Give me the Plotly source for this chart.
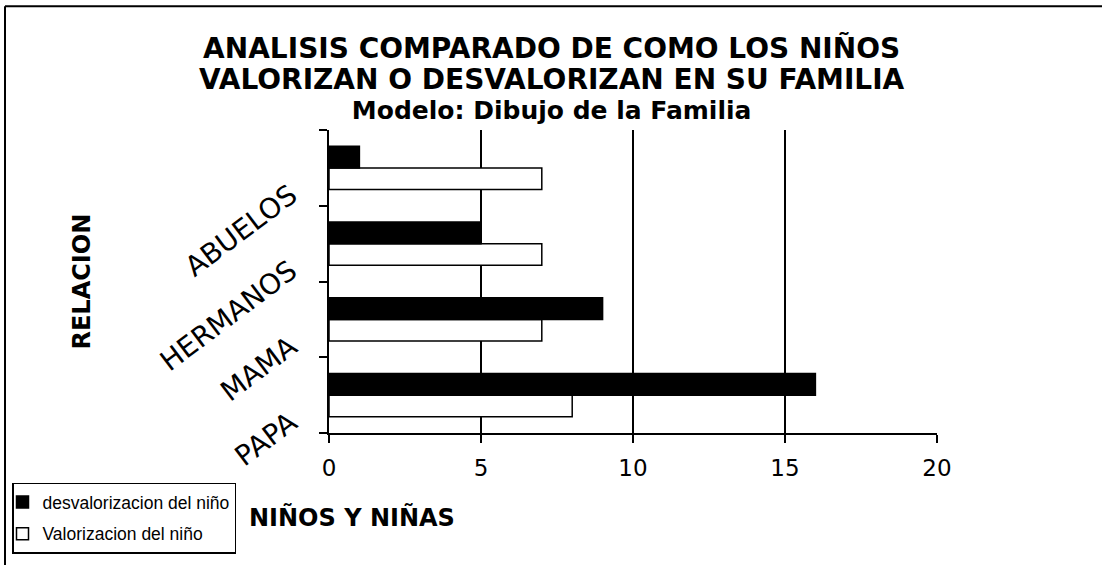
import plotly.graph_objects as go

# ---- data ----
categories = ["PAPA", "MAMA", "HERMANOS", "ABUELOS"]
desvalorizacion = [16, 9, 5, 1]
valorizacion = [8, 7, 7, 7]
x_ticks = [0, 5, 10, 15, 20]
grid_vals = [5, 10, 15]
title_lines = [
    "ANALISIS COMPARADO DE COMO LOS NIÑOS",
    "VALORIZAN O DESVALORIZAN EN SU FAMILIA",
    "Modelo: Dibujo de la Familia",
]
name_desv = "desvalorizacion del niño"
name_val = "Valorizacion del niño"
x_title = "NIÑOS Y NIÑAS"
y_title = "RELACION"

# ---- layout geometry (pixels) ----
W, H = 1102, 565
L, R, T, B = 329, 937, 130, 436


def px_x(p):
    return (p - L) / (R - L)


def px_y(p):
    return (B - p) / (B - T)


fig = go.Figure()
fig.add_trace(go.Bar(
    y=categories, x=valorizacion, name=name_val, orientation="h",
    legendrank=2, legendgroup="val",
    marker=dict(color="white", line=dict(color="black", width=1.5)),
))
fig.add_trace(go.Bar(
    y=categories, x=desvalorizacion, name=name_desv, orientation="h",
    legendrank=1, legendgroup="desv",
    marker=dict(color="black", line=dict(color="black", width=1.5)),
))
# empty helper trace so the grid-only overlay axis is drawn
fig.add_trace(go.Scatter(
    x=[None], y=[None], xaxis="x2", showlegend=False, hoverinfo="skip",
    mode="markers",
))

bold = dict(family="DejaVu Sans", weight=700, color="black")

title_html = "<br>".join([
    f"<span style='font-size:28px'>{title_lines[0]}</span>",
    f"<span style='font-size:28px'>{title_lines[1]}</span>",
    f"<span style='font-size:25px'>{title_lines[2]}</span>",
])

annotations = [
    dict(
        text=title_html, xref="paper", yref="paper", x=px_x(552), y=px_y(77),
        xanchor="center", yanchor="middle", showarrow=False, align="center",
        font=dict(size=23.5, **bold),
    ),
    dict(
        text=x_title, xref="paper", yref="paper", x=px_x(352), y=px_y(521),
        xanchor="center", yanchor="middle", showarrow=False,
        font=dict(size=24, **bold),
    ),
    dict(
        text=y_title, xref="paper", yref="paper", x=px_x(81), y=px_y(283),
        xanchor="center", yanchor="middle", showarrow=False, textangle=-90,
        font=dict(size=24, **bold),
    ),
]

shapes = [
    dict(type="line", xref="paper", yref="paper",
         x0=px_x(5), x1=px_x(1110), y0=px_y(5), y1=px_y(5),
         line=dict(color="black", width=2)),
    dict(type="line", xref="paper", yref="paper",
         x0=px_x(5), x1=px_x(5), y0=px_y(5), y1=px_y(575),
         line=dict(color="black", width=2)),
]

fig.update_layout(
    width=W, height=H, autosize=False,
    margin=dict(l=L, r=W - R, t=T, b=H - B, pad=0),
    paper_bgcolor="white", plot_bgcolor="white",
    barmode="group", bargap=0.43, bargroupgap=0,
    showlegend=True,
    legend=dict(
        x=px_x(12), y=px_y(486), xanchor="left", yanchor="top",
        traceorder="grouped", tracegroupgap=6,
        bordercolor="black", borderwidth=1.5, indentation=-11,
        bgcolor="white",
        font=dict(family="Liberation Sans, Arial", size=17.5, color="black"),
        itemwidth=30,
    ),
    xaxis=dict(
        range=[0, 20], tickvals=x_ticks, showgrid=False, zeroline=False,
        showline=True, linecolor="black", linewidth=1.5,
        ticks="outside", ticklen=8, tickwidth=1.5, tickcolor="black",
        ticklabelstandoff=6,
        tickfont=dict(family="DejaVu Sans", size=23, color="black"),
    ),
    xaxis2=dict(
        range=[0, 20], overlaying="x", anchor="y", side="bottom",
        tickvals=grid_vals,
        showgrid=True, gridcolor="black", gridwidth=1.5,
        showticklabels=False, ticks="", showline=False, zeroline=False,
    ),
    yaxis=dict(
        type="category", categoryorder="array", categoryarray=categories,
        tickson="boundaries", ticks="outside", ticklen=8, tickwidth=1.5,
        tickcolor="black", showline=True, linecolor="black", linewidth=1.5,
        showgrid=False, zeroline=False, tickangle=-37,
        ticklabelshift=24, ticklabelstandoff=31,
        tickfont=dict(family="DejaVu Sans", size=28, color="black"),
    ),
    annotations=annotations,
    shapes=shapes,
)

fig.write_html(
    "out.html",
    config={"displayModeBar": False},
    post_script="document.body.style.margin='0';document.body.style.padding='0';",
)
